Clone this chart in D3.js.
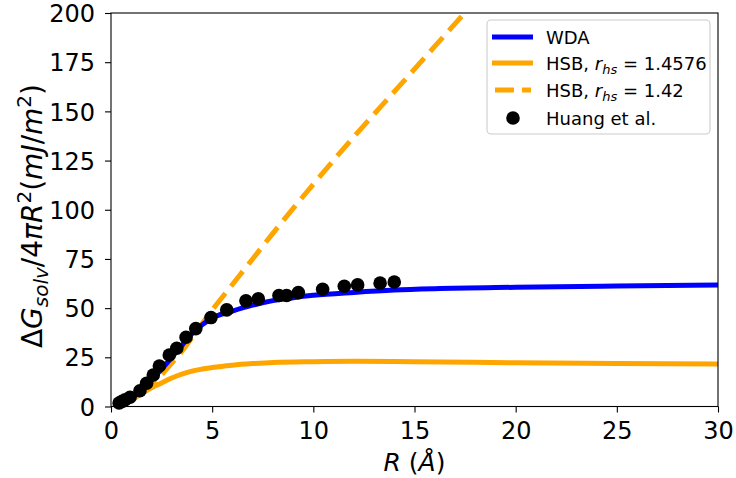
<!DOCTYPE html>
<html><head><meta charset="utf-8">
<script src="https://cdn.jsdelivr.net/npm/d3@7"></script>
<style>body{margin:0;background:#fff}svg{display:block;font-family:"DejaVu Sans",sans-serif}</style>
</head><body><svg id="c" width="736" height="478"></svg>
<script>
const xTicks = [0,5,10,15,20,25,30];
const yTicks = [0,25,50,75,100,125,150,175,200];

const wdaX = [0.3,0.5,1,1.5,2,2.5,3,3.5,4,4.5,5,6,7,8,9,10,12,14,16,20,25,30];
const wdaY = [0.5,1.5,4,8.5,13.5,19,25,31,37,41.5,45,48.5,51.5,53.8,55.3,56.5,58,59.2,59.9,60.6,61.2,61.7];

const hsbX = [0.5,1,1.5,2,2.5,3,3.5,4,5,6,7,8,10,12,15,20,25,30];
const hsbY = [0.5,3,6.5,9.5,12,14.5,16.5,18,19.8,21,21.8,22.4,22.8,23,22.8,22.2,21.9,21.6];

const hsb2X = [0.3,1,1.5,2,2.5,3,3.5,4,5,6,7,8,10,12,14,16,18];
const hsb2Y = [0,3.5,6.5,10,16,22,28,35,49,62,75,88,113,137,160,183,206];

const huangX = [0.4,0.55,0.7,0.94,1.43,1.76,2.09,2.39,2.88,3.25,3.71,4.19,4.94,5.72,6.67,7.28,8.3,8.68,9.26,10.46,11.53,12.19,13.3,14.0];
const huangY = [1.8,2.6,3.4,4.7,8.0,11.8,16.0,20.6,26.2,29.6,35.2,39.6,45.2,49.1,53.7,54.7,56.4,56.4,57.9,59.6,61.1,61.8,62.7,63.3];

const svg = d3.select('#c');
const L = 111, R = 718, T = 13, B = 406.5;
const x = d3.scaleLinear().domain([0,30]).range([L,R]);
const y = d3.scaleLinear().domain([0,200]).range([B,T]);

svg.append('defs').append('clipPath').attr('id','clip')
  .append('rect').attr('x',L).attr('y',T).attr('width',R-L).attr('height',B-T);

const g = svg.append('g').attr('clip-path','url(#clip)');
const line = d3.line().x(d=>x(d[0])).y(d=>y(d[1])).curve(d3.curveMonotoneX);

g.append('path').datum(d3.zip(hsb2X,hsb2Y)).attr('d',line)
  .attr('fill','none').attr('stroke','#ffa500').attr('stroke-width',5).attr('stroke-dasharray','19,9');
g.append('path').datum(d3.zip(hsbX,hsbY)).attr('d',line)
  .attr('fill','none').attr('stroke','#ffa500').attr('stroke-width',5);
g.append('path').datum(d3.zip(wdaX,wdaY)).attr('d',line)
  .attr('fill','none').attr('stroke','#0000ff').attr('stroke-width',5);
svg.append('g').selectAll('circle').data(d3.zip(huangX,huangY)).join('circle')
  .attr('cx',d=>x(d[0])).attr('cy',d=>y(d[1])).attr('r',6.8).attr('fill','#000');

// axes
const xa = svg.append('g').attr('transform',`translate(0,${B})`)
  .call(d3.axisBottom(x).tickValues(xTicks).tickSize(6).tickPadding(9).tickFormat(d3.format('d')));
const ya = svg.append('g').attr('transform',`translate(${L},0)`)
  .call(d3.axisLeft(y).tickValues(yTicks).tickSize(6).tickPadding(10).tickFormat(d3.format('d')));
[xa,ya].forEach(a=>{a.select('.domain').remove();
  a.selectAll('text').attr('font-family','DejaVu Sans').attr('font-size',24).attr('fill','#000');
  a.selectAll('line').attr('stroke','#000').attr('stroke-width',1.1);});
ya.selectAll('text').attr('dy','0.36em');
svg.append('rect').attr('x',L).attr('y',T).attr('width',R-L).attr('height',B-T)
  .attr('fill','none').attr('stroke','#000').attr('stroke-width',1.1);

// x label
const xl = svg.append('text').attr('x',(L+R)/2).attr('y',471).attr('text-anchor','middle')
  .attr('font-size',25).attr('fill','#000');
xl.append('tspan').attr('font-style','italic').text('R');
xl.append('tspan').text(' (');
xl.append('tspan').attr('font-style','italic').text('Å');
xl.append('tspan').text(')');

// y label
const yl = svg.append('text').attr('transform',`translate(42,216) rotate(-90)`)
  .attr('text-anchor','middle').attr('font-size',28).attr('fill','#000');
yl.append('tspan').text('Δ');
yl.append('tspan').attr('font-style','italic').text('G');
yl.append('tspan').attr('font-style','italic').attr('font-size',20).attr('dy',6).text('solv');
yl.append('tspan').attr('dy',-6).text('/4');
yl.append('tspan').attr('font-style','italic').text('πR');
yl.append('tspan').attr('font-size',20).attr('dy',-11).text('2');
yl.append('tspan').attr('dy',11).text('(');
yl.append('tspan').attr('font-style','italic').text('mJ');
yl.append('tspan').text('/');
yl.append('tspan').attr('font-style','italic').text('m');
yl.append('tspan').attr('font-size',20).attr('dy',-11).text('2');
yl.append('tspan').attr('dy',11).text(')');

// legend
const lg = svg.append('g');
lg.append('rect').attr('x',487).attr('y',20).attr('width',223).attr('height',114).attr('rx',4)
  .attr('fill','#fff').attr('fill-opacity',0.8).attr('stroke','#cccccc').attr('stroke-width',1.1);
const items = [
  {type:'line', color:'#0000ff', dash:null, label:['WDA']},
  {type:'line', color:'#ffa500', dash:null, label:['HSB, ','r','hs',' = 1.4576']},
  {type:'line', color:'#ffa500', dash:'19,8', label:['HSB, ','r','hs',' = 1.42']},
  {type:'dot', color:'#000', label:['Huang et al.']}
];
const ys = [37,63,90,118];
items.forEach((it,i)=>{
  const yy = ys[i];
  if(it.type==='line'){
    if(it.dash) lg.append('line').attr('x1',495).attr('x2',531).attr('y1',yy).attr('y2',yy)
      .attr('stroke',it.color).attr('stroke-width',5).attr('stroke-dasharray',it.dash);
    else lg.append('line').attr('x1',492).attr('x2',533).attr('y1',yy).attr('y2',yy)
      .attr('stroke',it.color).attr('stroke-width',5);
  } else {
    lg.append('circle').attr('cx',513).attr('cy',yy).attr('r',6.8).attr('fill','#000');
  }
  const t = lg.append('text').attr('x',546).attr('y',yy+6.5).attr('font-size',18).attr('fill','#000');
  if(it.label.length===1){ t.text(it.label[0]); }
  else {
    t.append('tspan').text(it.label[0]);
    t.append('tspan').attr('font-style','italic').text(it.label[1]);
    t.append('tspan').attr('font-style','italic').attr('font-size',13).attr('dy',4).text(it.label[2]);
    t.append('tspan').attr('dy',-4).text(it.label[3]);
  }
});
</script></body></html>
